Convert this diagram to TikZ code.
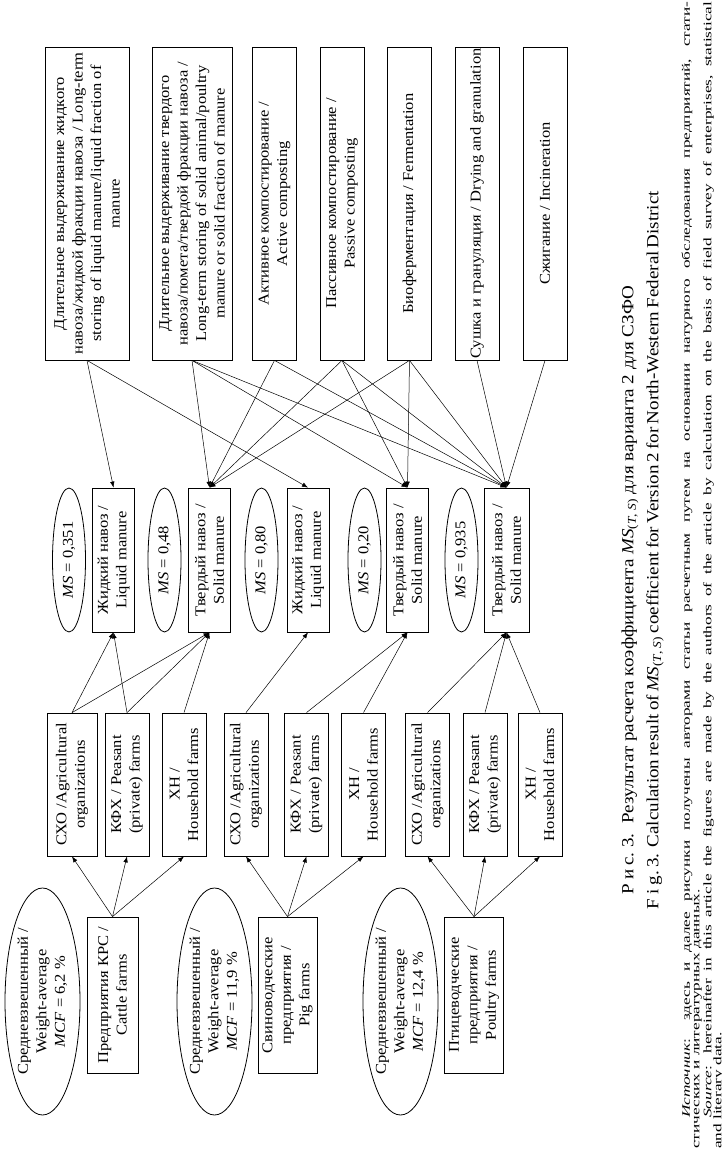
\documentclass[tikz,border=0pt]{standalone}
\usepackage{fontspec}
\setmainfont{Liberation Serif}
\newfontfamily\diagfont[FakeStretch=1.1]{Liberation Serif}
\newfontfamily\capfont[FakeStretch=1.12]{Liberation Serif}
\newfontfamily\srcfont[FakeStretch=1.5]{Liberation Serif}
\usetikzlibrary{shapes.geometric,arrows.meta}
\tikzset{
  box/.style={draw, line width=0.8pt, rotate=90, inner sep=1pt, align=center,
    font=\diagfont\fontsize{15}{18.5}\selectfont},
  oval/.style={draw, ellipse, line width=0.8pt, rotate=90, inner sep=0pt, align=center,
    font=\diagfont\fontsize{15}{18.5}\selectfont},
  conn/.style={line width=0.5pt, -{Latex[length=6pt,width=4.5pt]}},
  captxt/.style={rotate=90, inner sep=0pt, anchor=west, font=\capfont\fontsize{17}{20}\selectfont},
  srctxt/.style={rotate=90, inner sep=0pt, anchor=west, font=\srcfont\fontsize{11.5}{13}\selectfont},
  col1e/.style={oval, minimum width=227pt, minimum height=75pt},
  col1b/.style={box, minimum width=156pt},
  col2b/.style={box, minimum width=143pt, minimum height=44pt},
  col3e/.style={oval, minimum width=144pt, minimum height=33pt},
  col3b/.style={box, minimum width=144pt, minimum height=42pt},
  col4b/.style={box, minimum width=313pt, minimum height=44pt},
}
\begin{document}
\begin{tikzpicture}[x=1pt, y=-1pt]
\useasboundingbox (0,0) rectangle (722,1151);
% column 1
\node[col1e] (e1) at (42.5,1001.5) {Средневзвешенный /\\Weight-average\\\textit{MCF} = 6,2 \%};
\node[col1b, minimum height=51pt] (farm1) at (112.5,995) {Предприятия КРС /\\Cattle farms};
\node[col1e] (e2) at (214.5,1001.5) {Средневзвешенный /\\Weight-average\\\textit{MCF} = 11,9 \%};
\node[col1b, minimum height=59pt] (farm2) at (287.5,995) {Свиноводческие\\предприятия /\\Pig farms};
\node[col1e] (e3) at (400.5,1001.5) {Средневзвешенный /\\Weight-average\\\textit{MCF} = 12,4 \%};
\node[col1b, minimum height=59pt] (farm3) at (474,995) {Птицеводческие\\предприятия /\\Poultry farms};
% column 2
\node[col2b, minimum height=50pt] (cxo1) at (72,784.5) {СХО /Agricultural\\organizations};
\node[col2b] (kfx1) at (127,784.5) {КФХ / Peasant\\(private) farms};
\node[col2b] (xn1) at (184,784.5) {ХН /\\Household farms};
\node[col2b] (cxo2) at (246,784.5) {СХО /Agricultural\\organizations};
\node[col2b] (kfx2) at (306.5,784.5) {КФХ / Peasant\\(private) farms};
\node[col2b] (xn2) at (363.5,784.5) {ХН /\\Household farms};
\node[col2b] (cxo3) at (427.5,784.5) {СХО /Agricultural\\organizations};
\node[col2b] (kfx3) at (485,784.5) {КФХ / Peasant\\(private) farms};
\node[col2b] (xn3) at (540,784.5) {ХН /\\Household farms};
% column 3
\node[col3e] (ms1) at (69,560) {\textit{MS} = 0,351};
\node[col3b] (zh1) at (113.5,560) {Жидкий навоз /\\Liquid manure};
\node[col3e] (ms2) at (164.5,560) {\textit{MS} = 0,48};
\node[col3b] (tv1) at (209.5,560) {Твердый навоз /\\Solid manure};
\node[col3e] (ms3) at (261.5,560) {\textit{MS} = 0,80};
\node[col3b] (zh2) at (308,560) {Жидкий навоз /\\Liquid manure};
\node[col3e] (ms4) at (364.5,560) {\textit{MS} = 0,20};
\node[col3b] (tv2) at (407.5,560) {Твердый навоз /\\Solid manure};
\node[col3e] (ms5) at (461.5,560) {\textit{MS} = 0,935};
\node[col3b, minimum height=45pt] (tv3) at (506.5,560) {Твердый навоз /\\Solid manure};
% column 4
\node[col4b, minimum height=84pt] (t1) at (87,203.5) {Длительное выдерживание жидкого\\навоза/жидкой фракции навоза / Long-term\\storing of liquid manure/liquid fraction of\\manure};
\node[col4b, minimum height=80pt] (t2) at (192,203.5) {Длительное выдерживание твердого\\навоза/помета/твердой фракции навоза /\\Long-term storing of solid animal/poultry\\manure or solid fraction of manure};
\node[col4b] (t3) at (274.5,203.5) {Активное компостирование /\\Active composting};
\node[col4b] (t4) at (342,203.5) {Пассивное компостирование /\\Passive composting};
\node[col4b] (t5) at (409.5,203.5) {Биоферментация / Fermentation};
\node[col4b] (t6) at (477,203.5) {Сушка и грануляция / Drying and granulation};
\node[col4b] (t7) at (545,203.5) {Сжигание / Incineration};
% connectors column1 -> column2
\foreach \f/\g in {farm1/cxo1,farm1/kfx1,farm1/xn1,farm2/cxo2,farm2/kfx2,farm2/xn2,farm3/cxo3,farm3/kfx3,farm3/xn3}
  \draw[conn] (\f.east) -- (\g.west);
% column2 -> column3
\foreach \f/\g in {cxo1/zh1,cxo1/tv1,kfx1/zh1,kfx1/tv1,xn1/tv1,cxo2/zh2,kfx2/tv2,xn2/tv2,cxo3/tv3,kfx3/tv3,xn3/tv3}
  \draw[conn] (\f.east) -- (\g.west);
% column4 -> column3
\foreach \f/\g in {t1/zh1,t1/zh2,t2/tv1,t2/tv2,t2/tv3,t3/tv1,t3/tv3,t4/tv1,t4/tv2,t4/tv3,t5/tv1,t5/tv2,t5/tv3,t6/tv3,t7/tv3}
  \draw[conn] (\f.west) -- (\g.east);
% captions
\node[captxt] (cap1) at (630,895) {Р\hspace{0.25em}и\hspace{0.25em}с.\ 3.\ \ Результат расчета коэффициента \textit{MS}\textsubscript{(\textit{T}, \textit{S})} для варианта 2 для СЗФО};
\node[captxt] (cap2) at (655,910) {\makebox[698pt][s]{F\hspace{0.25em}i\hspace{0.25em}g.\ 3.\ \ Calculation result of \textit{MS}\textsubscript{(\textit{T}, \textit{S})} coefficient for Version 2 for North-Western Federal District}};
\node[srctxt] (src1) at (687,1118) {\makebox[1116pt][s]{\textit{Источник}: здесь и далее рисунки получены авторами статьи расчетным путем на основании натурного обследования предприятий, стати-}};
\node[srctxt] (src2) at (698,1149) {стических и литературных данных.};
\node[srctxt] (src3) at (708.5,1118) {\makebox[1116pt][s]{\textit{Source}: hereinafter in this article the figures are made by the authors of the article by calculation on the basis of field survey of enterprises, statistical}};
\node[srctxt] (src4) at (718.5,1149) {and literary data.};
\end{tikzpicture}
\end{document}
